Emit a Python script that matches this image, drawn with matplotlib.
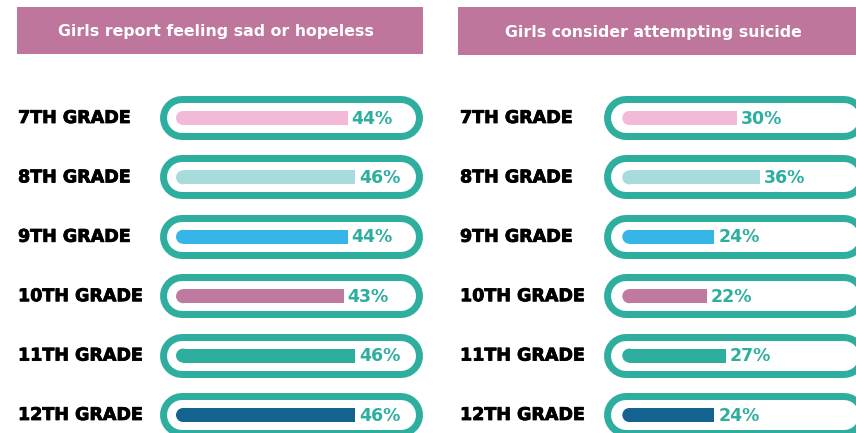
import matplotlib
matplotlib.use("Agg")
import matplotlib.pyplot as plt
import matplotlib.patheffects as pe
from matplotlib.patches import Rectangle

# ---------------- data ----------------
grades = ["7TH GRADE", "8TH GRADE", "9TH GRADE", "10TH GRADE", "11TH GRADE", "12TH GRADE"]
sad_hopeless = [44, 46, 44, 43, 46, 46]
consider_suicide = [30, 36, 24, 22, 27, 24]
panel_titles = ["Girls report feeling sad or hopeless", "Girls consider attempting suicide"]
bar_colors = ["#f2bad6", "#a8dbdc", "#35b6e6", "#c07aa0", "#2eae9f", "#14628f"]

# ---------------- style ----------------
TEAL = "#2eae9f"
TITLE_BG = "#be769c"
W, H = 856, 433
ROW0, ROW_STEP = 118.0, 59.4

fig = plt.figure(figsize=(W / 100, H / 100), dpi=100)
fig.patch.set_facecolor("white")

panels = [
    dict(x0=0, x1=430, origin=176.0, scale=3.9, tbox=(17, 423, 7, 54),
         cap=(160, 423), label_x=18, values=sad_hopeless, title=panel_titles[0]),
    dict(x0=430, x1=856, origin=622.3, scale=3.83, tbox=(458, 858, 7, 55),
         cap=(604, 866), label_x=460, values=consider_suicide, title=panel_titles[1]),
]

for p in panels:
    ax = fig.add_axes([p["x0"] / W, 0, (p["x1"] - p["x0"]) / W, 1])
    ax.set_axis_off()
    org, sc = p["origin"], p["scale"]
    px2x = lambda px: (px - org) / sc
    px2y = lambda py: (py - ROW0) / ROW_STEP
    ax.set_xlim(px2x(p["x0"]), px2x(p["x1"]))
    ax.set_ylim(px2y(H), px2y(0))

    # title box
    l, r, t, b = p["tbox"]
    ax.add_patch(Rectangle((px2x(l), px2y(t)), (r - l) / sc, (b - t) / ROW_STEP,
                           facecolor=TITLE_BG, edgecolor="none", clip_on=False))
    ax.text(px2x((l + min(r, 856)) / 2) - 1.0, px2y((t + b) / 2 + 1.0), p["title"],
            color="white", fontsize=11.3, fontweight="bold", family="DejaVu Sans",
            ha="center", va="center")

    ys = list(range(len(grades)))
    cap_h = 44
    c_l = px2x(p["cap"][0] + cap_h / 2)
    c_r = px2x(p["cap"][1] - cap_h / 2)
    for i in ys:
        ax.plot([c_l, c_r], [i, i], color=TEAL, lw=cap_h * 0.72,
                solid_capstyle="round", zorder=1, clip_on=True)
        ax.plot([c_l, c_r], [i, i], color="white", lw=(cap_h - 14) * 0.72,
                solid_capstyle="round", zorder=2, clip_on=True)

    # bars: rounded left end, flat right end
    rad = 7 / sc
    bh = 14 / ROW_STEP
    vals = p["values"]
    ax.barh(ys, [v - rad for v in vals], left=rad, height=bh, color=bar_colors,
            edgecolor="none", zorder=3)
    ax.scatter([rad] * len(ys), ys, s=(14 * 0.72) ** 2, c=bar_colors,
               edgecolors="none", zorder=3)

    for i, v in enumerate(vals):
        ax.text(v + 4 / sc, i + 0.01, f"{v}%", color=TEAL, fontsize=12.5,
                fontweight="bold", family="DejaVu Sans", ha="left", va="center", zorder=4)
        ax.text(px2x(p["label_x"]), i, grades[i], color="black", fontsize=12.6,
                fontweight="bold", family="DejaVu Sans", ha="left", va="center",
                path_effects=[pe.withStroke(linewidth=0.6, foreground="black")])

fig.savefig("out.png", dpi=100, facecolor="white")
